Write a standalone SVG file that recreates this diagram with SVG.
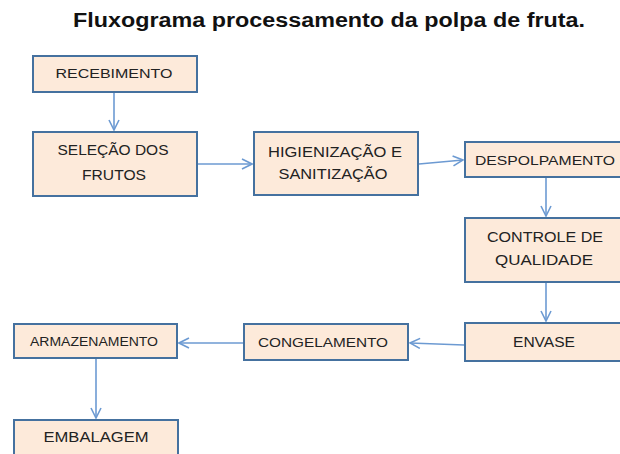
<svg xmlns="http://www.w3.org/2000/svg" width="620" height="454" viewBox="0 0 620 454">
<style>
.box{fill:#FDEADA;stroke:#45719F;stroke-width:2}
.lbl{font-family:"Liberation Sans",Arial,sans-serif;font-size:14px;fill:#222;text-anchor:middle}
.title{font-family:"Liberation Sans",Arial,sans-serif;font-size:20px;font-weight:bold;fill:#111}
.con{stroke:#6C9AD2;stroke-width:1.6;fill:none}
</style>
<defs>
<marker id="arr" viewBox="0 0 12 12" refX="11" refY="6" markerWidth="12" markerHeight="12" markerUnits="userSpaceOnUse" orient="auto">
<path d="M1,1 L11,6 L1,11" fill="none" stroke="#6C9AD2" stroke-width="1.6"/>
</marker>
</defs>
<rect width="620" height="454" fill="#fff"/>
<text class="title" x="73" y="27" textLength="512" lengthAdjust="spacingAndGlyphs">Fluxograma processamento da polpa de fruta.</text>
<g id="connectors">
<line class="con" x1="114" y1="93" x2="114" y2="130" marker-end="url(#arr)"/>
<line class="con" x1="198" y1="164" x2="252" y2="164" marker-end="url(#arr)"/>
<line class="con" x1="419" y1="164" x2="463" y2="160" marker-end="url(#arr)"/>
<line class="con" x1="546" y1="178" x2="546" y2="216" marker-end="url(#arr)"/>
<line class="con" x1="546" y1="283" x2="546" y2="321" marker-end="url(#arr)"/>
<line class="con" x1="464" y1="345" x2="410" y2="343" marker-end="url(#arr)"/>
<line class="con" x1="243" y1="343" x2="179" y2="343" marker-end="url(#arr)"/>
<line class="con" x1="96" y1="359" x2="96" y2="418" marker-end="url(#arr)"/>
</g>
<g id="recebimento"><rect class="box" x="33" y="56" width="164" height="36"/><text class="lbl" x="114" y="78" textLength="117" lengthAdjust="spacingAndGlyphs" style="font-size:13px">RECEBIMENTO</text></g>
<g id="selecao"><rect class="box" x="33" y="132" width="164" height="64"/><text class="lbl" x="113" y="155" textLength="111" lengthAdjust="spacingAndGlyphs">SELEÇÃO DOS</text><text class="lbl" x="114" y="180" textLength="64" lengthAdjust="spacingAndGlyphs">FRUTOS</text></g>
<g id="higienizacao"><rect class="box" x="254" y="132" width="164" height="63"/><text class="lbl" x="335" y="157" textLength="134" lengthAdjust="spacingAndGlyphs">HIGIENIZAÇÃO E</text><text class="lbl" x="333" y="179" textLength="109" lengthAdjust="spacingAndGlyphs">SANITIZAÇÃO</text></g>
<g id="despolpamento"><rect class="box" x="465" y="142" width="163" height="35"/><text class="lbl" x="545" y="165" textLength="140" lengthAdjust="spacingAndGlyphs" style="font-size:13px">DESPOLPAMENTO</text></g>
<g id="controle"><rect class="box" x="465" y="218" width="163" height="64"/><text class="lbl" x="545" y="242" textLength="116" lengthAdjust="spacingAndGlyphs">CONTROLE DE</text><text class="lbl" x="544" y="265" textLength="98" lengthAdjust="spacingAndGlyphs">QUALIDADE</text></g>
<g id="envase"><rect class="box" x="465" y="323" width="163" height="38"/><text class="lbl" x="544" y="347" textLength="62" lengthAdjust="spacingAndGlyphs">ENVASE</text></g>
<g id="congelamento"><rect class="box" x="244" y="324" width="164" height="36"/><text class="lbl" x="323" y="347" textLength="130" lengthAdjust="spacingAndGlyphs" style="font-size:12px">CONGELAMENTO</text></g>
<g id="armazenamento"><rect class="box" x="14" y="324" width="163" height="34"/><text class="lbl" x="94" y="346" textLength="128" lengthAdjust="spacingAndGlyphs" style="font-size:12px">ARMAZENAMENTO</text></g>
<g id="embalagem"><rect class="box" x="14" y="420" width="164" height="42"/><text class="lbl" x="96" y="442" textLength="105" lengthAdjust="spacingAndGlyphs">EMBALAGEM</text></g>
</svg>
